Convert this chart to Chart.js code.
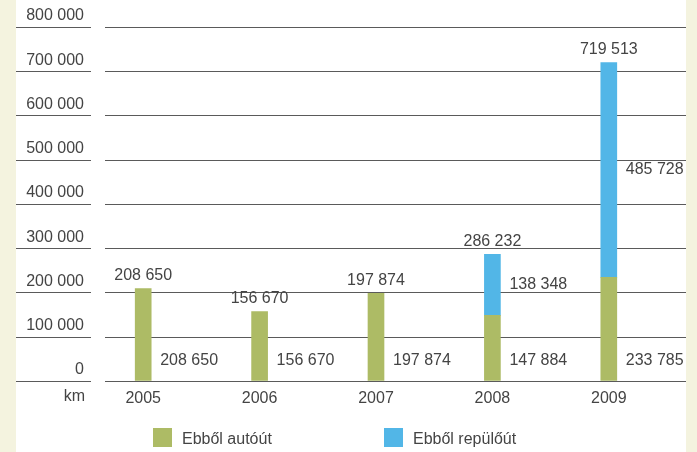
<!DOCTYPE html>
<html>
<head>
<meta charset="utf-8">
<script src="https://cdn.jsdelivr.net/npm/chart.js@4/dist/chart.umd.min.js"></script>
<style>
  html, body { margin: 0; padding: 0; }
  body {
    width: 697px; height: 452px; position: relative; overflow: hidden;
    background: #f4f3df;
    font-family: 'Liberation Sans', sans-serif;
  }
  #panel { position: absolute; left: 16px; top: 0; width: 670px; height: 452px; background: #fff; }
  #chart { position: absolute; left: 0; top: 0; }
  .legend-item { position: absolute; top: 428px; font-size: 16px; line-height: 22px; color: #444; white-space: nowrap; }
  .legend-item i { display: inline-block; width: 19px; height: 19px; vertical-align: top; margin-right: 10px; }
</style>
</head>
<body>
<div id="panel"></div>
<canvas id="chart" width="697" height="452"></canvas>
<div id="legend"></div>
<script>
// évek és sorozatok
var years = ["2005", "2006", "2007", "2008", "2009"];
var autout = [208650, 156670, 197874, 147884, 233785];
var repulout = [null, null, null, 138348, 485728];
var seriesNames = ["Ebből autóút", "Ebből repülőút"];
var seriesColors = ["#adbb65", "#52b6e7"];
var yTicks = [0, 100000, 200000, 300000, 400000, 500000, 600000, 700000, 800000];
var unitLabel = "km";

var textColor = "#444";
var fontFamily = "'Liberation Sans', sans-serif";

function fmt(v) {
    return String(v).replace(/\B(?=(\d{3})+(?!\d))/g, " ");
}

// vízszintes rácsvonalak (a tengelyfeliratok alatt is)
var gridPlugin = {
    id: "gridLines",
    beforeDatasetsDraw: function(chart) {
        var ctx = chart.ctx;
        var y = chart.scales.y;
        ctx.save();
        ctx.strokeStyle = "#5a5a5a";
        ctx.lineWidth = 1.2;
        yTicks.forEach(function(t) {
            var py = Math.round(y.getPixelForValue(t)) + 0.5;
            ctx.beginPath();
            ctx.moveTo(16, py);
            ctx.lineTo(91, py);
            ctx.moveTo(105, py);
            ctx.lineTo(686, py);
            ctx.stroke();
        });
        ctx.restore();
    }
};

// értékcímkék: összeg az oszlop fölött, részértékek jobbra
var valuePlugin = {
    id: "valueLabels",
    afterDatasetsDraw: function(chart) {
        var ctx = chart.ctx;
        var m0 = chart.getDatasetMeta(0);
        var m1 = chart.getDatasetMeta(1);
        ctx.save();
        ctx.font = "16px " + fontFamily;
        ctx.fillStyle = textColor;
        ctx.textBaseline = "middle";
        years.forEach(function(yr, i) {
            var a = m0.data[i];
            var b = m1.data[i];
            var total = autout[i] + (repulout[i] || 0);
            var top = repulout[i] ? b : a;
            ctx.textAlign = "center";
            ctx.fillText(fmt(total), a.x, top.y - 13);
            ctx.textAlign = "left";
            var right = a.x + a.width / 2 + 9;
            ctx.fillText(fmt(autout[i]), right, a.base - 20);
            if (repulout[i]) {
                ctx.fillText(fmt(repulout[i]), right, (b.y + b.base) / 2);
            }
        });
        // mértékegység a tengely alatt
        ctx.textAlign = "right";
        ctx.fillText(unitLabel, chart.chartArea.left, chart.scales.x.top + 16);
        ctx.restore();
    }
};

new Chart(document.getElementById("chart"), {
    type: "bar",
    data: {
        labels: years,
        datasets: [
            { label: seriesNames[0], data: autout, backgroundColor: seriesColors[0], barThickness: 16 },
            { label: seriesNames[1], data: repulout, backgroundColor: seriesColors[1], barThickness: 16 }
        ]
    },
    options: {
        responsive: false,
        animation: false,
        layout: { padding: { left: 16, right: 30, top: 27, bottom: 36 } },
        plugins: { legend: { display: false }, tooltip: { enabled: false } },
        scales: {
            x: {
                stacked: true,
                grid: { display: false, drawTicks: false },
                border: { display: false },
                ticks: { color: textColor, font: { family: fontFamily, size: 16 }, padding: 8 }
            },
            y: {
                stacked: true,
                min: 0,
                max: 800000,
                afterFit: function(scale) { scale.width = 69; },
                afterBuildTicks: function(scale) {
                    scale.ticks = yTicks.map(function(v) { return { value: v }; });
                },
                grid: { display: false, drawTicks: false },
                border: { display: false },
                ticks: {
                    color: textColor,
                    font: { family: fontFamily, size: 16 },
                    padding: 1,
                    labelOffset: -11,
                    callback: function(v) { return fmt(v); }
                }
            }
        }
    },
    plugins: [gridPlugin, valuePlugin]
});

// jelmagyarázat
var legendPos = [153, 384];
var legend = document.getElementById("legend");
seriesNames.forEach(function(name, i) {
    var d = document.createElement("div");
    d.className = "legend-item";
    d.style.left = legendPos[i] + "px";
    d.innerHTML = '<i style="background:' + seriesColors[i] + '"></i>' + name;
    legend.appendChild(d);
});
</script>
</body>
</html>
